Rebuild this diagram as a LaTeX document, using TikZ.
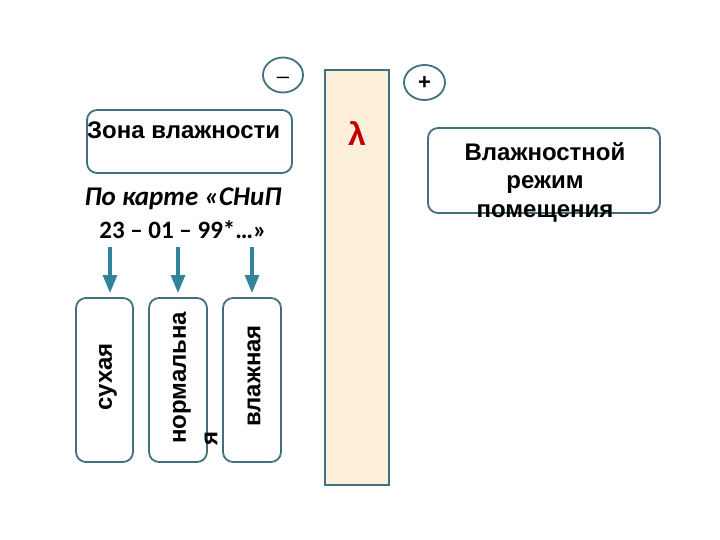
\documentclass[tikz,border=0pt]{standalone}
\usepackage{fontspec}
\setmainfont{Liberation Sans}
\newfontfamily\calib{Carlito}
\definecolor{edge}{HTML}{41717D}
\definecolor{arrowc}{HTML}{31849B}
\definecolor{beige}{HTML}{FDEFD9}
\definecolor{lam}{HTML}{C00000}
\tikzset{
  rbox/.style={draw=edge, line width=1.8pt, rounded corners=10pt},
  sign/.style={draw=edge, line width=1.8pt},
  downarrow/.style={draw=arrowc, line width=3.2pt, -{Triangle[length=18pt,width=14pt]}},
  lbl/.style={font=\fontsize{24}{28}\selectfont\bfseries, inner sep=0pt}
}
\usetikzlibrary{shapes.geometric,arrows.meta}
\begin{document}
\begin{tikzpicture}[x=1pt,y=-1pt]
\useasboundingbox (0,0) rectangle (720,540);
% signs
\draw[sign] (283,75) ellipse [x radius=20, y radius=17.5];
\node[font=\fontsize{22}{26}\selectfont, inner sep=0pt] (minus) at (283,80) {–};
\draw[sign] (424.5,82.5) ellipse [x radius=20.5, y radius=17.5];
\node[lbl, font=\fontsize{22}{26}\selectfont\bfseries] (plus) at (424.5,83) {+};
% wall
\draw[draw=edge, fill=beige, line width=1.8pt] (325,70) rectangle (389,485);
\node[font=\fontsize{32}{36}\selectfont\bfseries, text=lam, inner sep=0pt] (lambda) at (357,133) {λ};
% zone box
\draw[rbox] (87,110) rectangle (292,173);
\node[lbl, anchor=west] (zona) at (87,130) {Зона влажности};
\node[font=\calib\fontsize{27}{30}\selectfont\bfseries\itshape, inner sep=0pt] (snip1) at (183,199) {По карте «СНиП};
\node[font=\calib\fontsize{25}{28}\selectfont\bfseries, inner sep=0pt] (snip2) at (183,230) {23 – 01 – 99*…»};
% right box
\draw[rbox] (428,128) rectangle (660,213);
\node[lbl, align=center, font=\fontsize{24}{28.5}\selectfont\bfseries] (rezh) at (545,182) {Влажностной\\режим\\помещения};
% three boxes
\draw[rbox] (76,298) rectangle (133,462);
\draw[rbox] (149,298) rectangle (207,462);
\draw[rbox] (223,298) rectangle (281,462);
\coordinate (a1) at (110,247);
\coordinate (a2) at (178,247);
\coordinate (a3) at (252,247);
\coordinate (t1) at (110,293);
\coordinate (t2) at (178,293);
\coordinate (t3) at (252,293);
\draw[downarrow] (a1) -- (t1);
\draw[downarrow] (a2) -- (t2);
\draw[downarrow] (a3) -- (t3);
\node[lbl, rotate=90] (s1) at (108,377) {сухая};
\node[lbl, rotate=90, anchor=west] (s2) at (182,444) {нормальна};
\node[lbl, rotate=90, anchor=west] (s2b) at (211,446) {я};
\node[lbl, rotate=90] (s3) at (254,376) {влажная};
\end{tikzpicture}
\end{document}
